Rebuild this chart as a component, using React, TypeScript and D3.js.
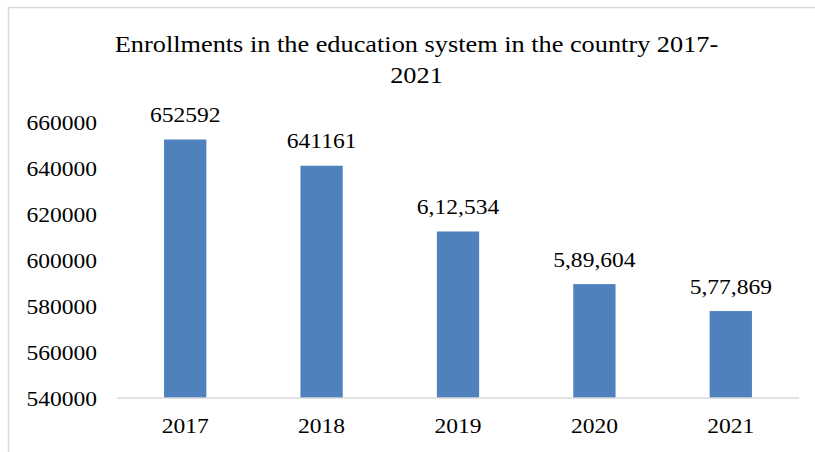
import React from "react";
import * as d3 from "d3";

const categories = ["2017", "2018", "2019", "2020", "2021"];
const values = [652592, 641161, 612534, 589604, 577869];
const valueLabels = ["652592", "641161", "6,12,534", "5,89,604", "5,77,869"];
const yTicks = [540000, 560000, 580000, 600000, 620000, 640000, 660000];
const titleLines = ["Enrollments in the education system in the country 2017-", "2021"];

const W = 815;
const H = 452;
const FONT = '"Liberation Serif", "Times New Roman", Times, serif';

function T({ x, y, anchor = "middle", size = 22, sx = 1.07, dy, children }: any) {
  return (
    <text
      transform={`translate(${x},${y}) scale(${sx},1)`}
      dy={dy}
      textAnchor={anchor}
      style={{ fontFamily: FONT, fontSize: `${size}px`, fill: "#000" }}
    >
      {children}
    </text>
  );
}

export default function App() {
  const x = d3.scaleBand<string>().domain(categories).range([117, 799]).paddingInner(0.69).paddingOuter(0.345);
  const y = d3.scaleLinear().domain([540000, 660000]).range([398, 122.5]);
  const blue = "#4F81BD";
  return (
    <svg width={W} height={H} style={{ position: "absolute", left: 0, top: 0, background: "#fff" }}>
      <rect x={0} y={0} width={W} height={H} fill="#fff" />
      <line x1={8} y1={7.5} x2={815} y2={7.5} stroke="#d9d9d9" strokeWidth={1.5} />
      <line x1={8.5} y1={7} x2={8.5} y2={452} stroke="#d9d9d9" strokeWidth={1.5} />
      {titleLines.map((t, i) => (
        <T key={i} x={416.5} y={52 + i * 31} size={23.5} sx={1.12}>{t}</T>
      ))}
      {yTicks.map((t) => (
        <T key={t} x={97} y={y(t)} dy="0.35em" anchor="end">{t}</T>
      ))}
      {categories.map((c, i) => (
        <g key={c}>
          <rect x={x(c)} y={y(values[i])} width={x.bandwidth()} height={y(540000) - y(values[i])} fill={blue} />
          <T x={(x(c) as number) + x.bandwidth() / 2} y={y(values[i]) - 17.5}>{valueLabels[i]}</T>
          <T x={(x(c) as number) + x.bandwidth() / 2} y={433}>{c}</T>
        </g>
      ))}
      <line x1={117} y1={398} x2={799} y2={398} stroke="#d9d9d9" strokeWidth={1.5} />
    </svg>
  );
}
